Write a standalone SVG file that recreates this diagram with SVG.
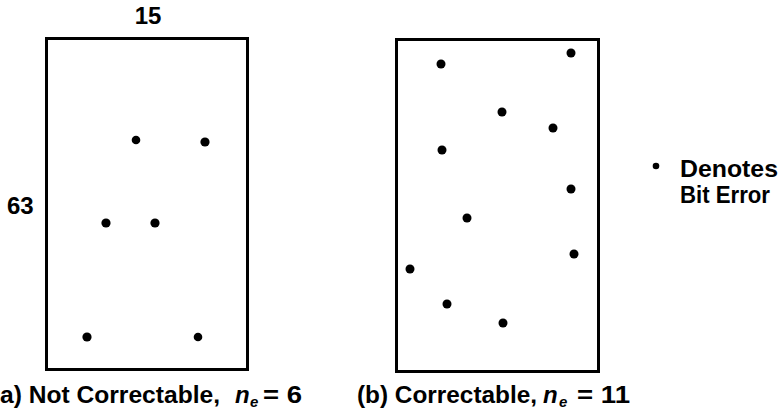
<svg xmlns="http://www.w3.org/2000/svg" width="781" height="419" viewBox="0 0 781 419">
<style>
text{font-family:"Liberation Sans",Arial,sans-serif;font-weight:bold;font-size:24px;fill:#000}
.it{font-style:italic}
.sub{font-size:15px;font-style:italic}
.box{fill:none;stroke:#000;stroke-width:3}
.dot{fill:#000}
</style>
<rect width="781" height="419" fill="#fff"/>
<g id="panel-a">
<rect class="box" x="46.5" y="38.5" width="201" height="331"/>
<text x="148" y="24" text-anchor="middle">15</text>
<text x="7" y="214">63</text>
<circle class="dot" cx="136" cy="140" r="4.3"/>
<circle class="dot" cx="205" cy="142" r="4.6"/>
<circle class="dot" cx="106" cy="223" r="4.6"/>
<circle class="dot" cx="155" cy="223" r="4.6"/>
<circle class="dot" cx="87" cy="337" r="4.6"/>
<circle class="dot" cx="198" cy="337" r="4.3"/>
<text x="0" y="403" textLength="220" lengthAdjust="spacingAndGlyphs">a) Not Correctable,</text>
<text class="it" x="235" y="403">n</text>
<text class="sub" x="250" y="407">e</text>
<text x="263" y="403" textLength="39" lengthAdjust="spacingAndGlyphs">= 6</text>
</g>
<g id="panel-b">
<rect class="box" x="396.5" y="39.5" width="202" height="332"/>
<circle class="dot" cx="441" cy="64" r="4.5"/>
<circle class="dot" cx="571" cy="53" r="4.5"/>
<circle class="dot" cx="502" cy="112" r="4.5"/>
<circle class="dot" cx="553" cy="128" r="4.5"/>
<circle class="dot" cx="442" cy="150" r="4.5"/>
<circle class="dot" cx="571" cy="189" r="4.5"/>
<circle class="dot" cx="467" cy="218" r="4.5"/>
<circle class="dot" cx="574" cy="254" r="4.5"/>
<circle class="dot" cx="410" cy="269" r="4.5"/>
<circle class="dot" cx="447" cy="304" r="4.5"/>
<circle class="dot" cx="503" cy="323" r="4.5"/>
<text x="357" y="403" textLength="180" lengthAdjust="spacingAndGlyphs">(b) Correctable,</text>
<text class="it" x="543" y="403">n</text>
<text class="sub" x="559" y="407">e</text>
<text x="577" y="403" textLength="53" lengthAdjust="spacingAndGlyphs">= 11</text>
</g>
<g id="legend">
<circle class="dot" cx="656" cy="166" r="3.3"/>
<text x="680" y="177" textLength="98" lengthAdjust="spacingAndGlyphs">Denotes</text>
<text x="680" y="203" textLength="90" lengthAdjust="spacingAndGlyphs">Bit Error</text>
</g>
<g id="connectors"/>
</svg>
